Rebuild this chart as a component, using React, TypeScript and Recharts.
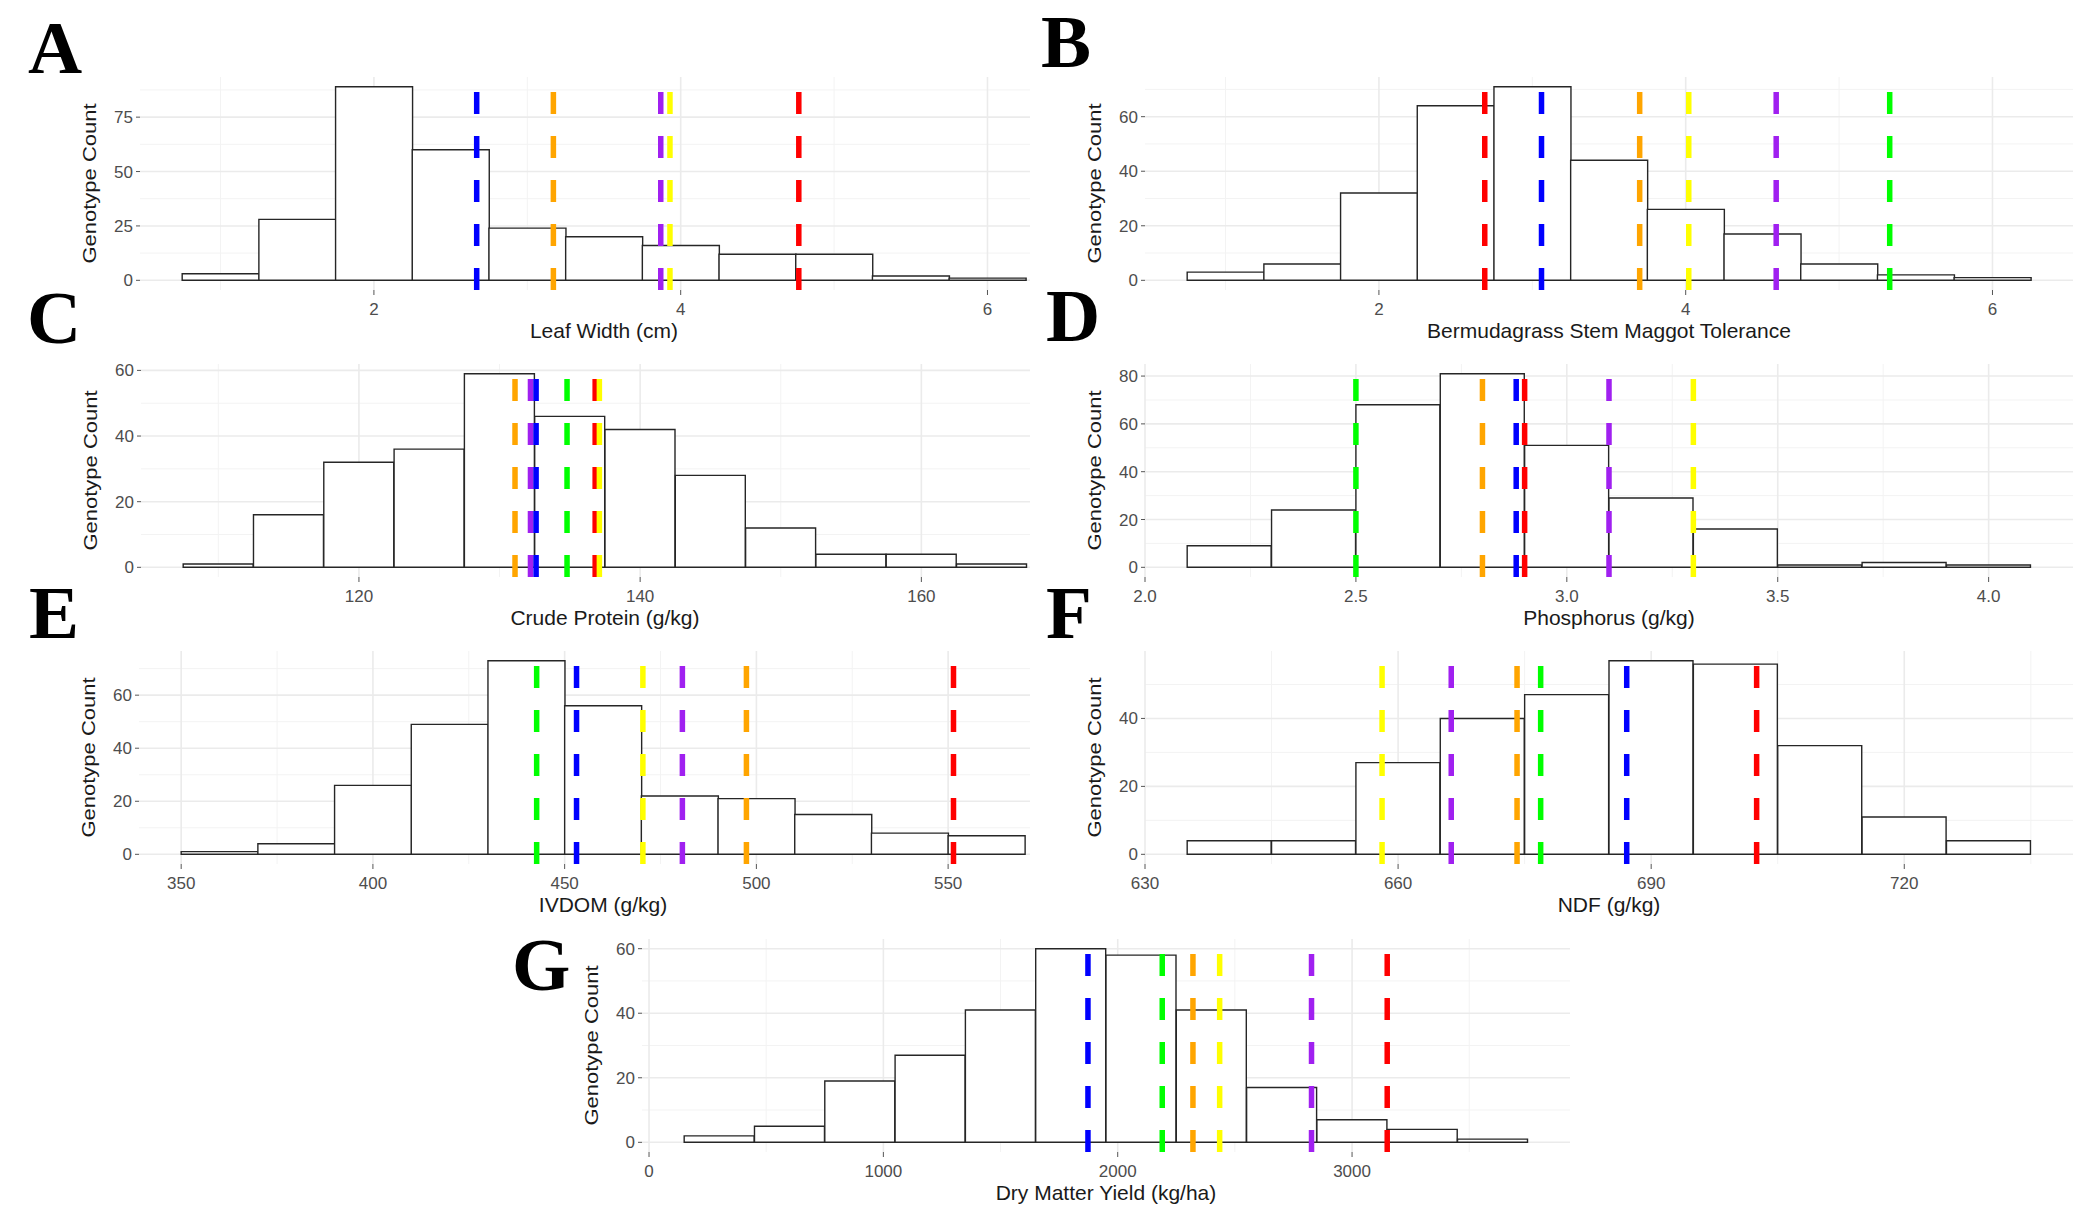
import {
  ComposedChart,
  Bar,
  XAxis,
  YAxis,
  CartesianGrid,
  ReferenceLine,
} from "recharts";

// colours used by the cut-off lines
const BLUE = "#0000FF";
const ORANGE = "#FFA500";
const PURPLE = "#A020F0";
const YELLOW = "#FFFF00";
const RED = "#FF0000";
const GREEN = "#00FF00";

// A - leaf width
const leafWidthBins = [1, 1.5, 2, 2.5, 3, 3.5, 4, 4.5, 5, 5.5, 6];
const leafWidthCounts = [3, 28, 89, 60, 24, 20, 16, 12, 12, 2, 1];
const leafWidthXTicks = [2, 4, 6];
const leafWidthYTicks = [0, 25, 50, 75];
const leafWidthLines = [2.67, 3.17, 3.87, 3.93, 4.77];
const leafWidthColors = [BLUE, ORANGE, PURPLE, YELLOW, RED];

// B - stem maggot tolerance
const maggotBins = [1, 1.5, 2, 2.5, 3, 3.5, 4, 4.5, 5, 5.5, 6];
const maggotCounts = [3, 6, 32, 64, 71, 44, 26, 17, 6, 2, 1];
const maggotXTicks = [2, 4, 6];
const maggotYTicks = [0, 20, 40, 60];
const maggotLines = [2.69, 3.06, 3.7, 4.02, 4.59, 5.33];
const maggotColors = [RED, BLUE, ORANGE, YELLOW, PURPLE, GREEN];

// C - crude protein
const proteinBins = [110, 115, 120, 125, 130, 135, 140, 145, 150, 155, 160, 165];
const proteinCounts = [1, 16, 32, 36, 59, 46, 42, 28, 12, 4, 4, 1];
const proteinXTicks = [120, 140, 160];
const proteinYTicks = [0, 20, 40, 60];
const proteinLines = [131.1, 132.2, 132.6, 134.8, 136.8, 137.1];
const proteinColors = [ORANGE, PURPLE, BLUE, GREEN, RED, YELLOW];

// D - phosphorus
const phosBins = [2.2, 2.4, 2.6, 2.8, 3.0, 3.2, 3.4, 3.6, 3.8, 4.0];
const phosCounts = [9, 24, 68, 81, 51, 29, 16, 1, 2, 1];
const phosXTicks = [2.0, 2.5, 3.0, 3.5, 4.0];
const phosYTicks = [0, 20, 40, 60, 80];
const phosLines = [2.5, 2.8, 2.88, 2.9, 3.1, 3.3];
const phosColors = [GREEN, ORANGE, BLUE, RED, PURPLE, YELLOW];

// E - IVDOM
const ivdomBins = [360, 380, 400, 420, 440, 460, 480, 500, 520, 540, 560];
const ivdomCounts = [1, 4, 26, 49, 73, 56, 22, 21, 15, 8, 7];
const ivdomXTicks = [350, 400, 450, 500, 550];
const ivdomYTicks = [0, 20, 40, 60];
const ivdomLines = [442.7, 453.1, 470.4, 480.7, 497.4, 551.4];
const ivdomColors = [GREEN, BLUE, YELLOW, PURPLE, ORANGE, RED];

// F - NDF
const ndfBins = [640, 650, 660, 670, 680, 690, 700, 710, 720, 730];
const ndfCounts = [4, 4, 27, 40, 47, 57, 56, 32, 11, 4];
const ndfXTicks = [630, 660, 690, 720];
const ndfYTicks = [0, 20, 40];
const ndfLines = [658.1, 666.3, 674.1, 676.9, 687.1, 702.5];
const ndfColors = [YELLOW, PURPLE, ORANGE, GREEN, BLUE, RED];

// G - dry matter yield
const yieldBins = [300, 600, 900, 1200, 1500, 1800, 2100, 2400, 2700, 3000, 3300, 3600];
const yieldCounts = [2, 5, 19, 27, 41, 60, 58, 41, 17, 7, 4, 1];
const yieldXTicks = [0, 1000, 2000, 3000];
const yieldYTicks = [0, 20, 40, 60];
const yieldLines = [1873, 2190, 2321, 2435, 2827, 3150];
const yieldColors = [BLUE, GREEN, ORANGE, YELLOW, PURPLE, RED];

const PLOT_W = 928;
const PLOT_H = 213;
const Y_AXIS_W = 60;
const X_AXIS_H = 60;
const M_TOP = 10;
const M_RIGHT = 12;
const CROP_X = 1030; // left column is cut off here in the figure

// ggplot style minor breaks: halfway between the major ones
function minorOf(ticks: number[]) {
  const step = ticks[1] - ticks[0];
  return [ticks[0] - step / 2, ...ticks.map((t) => t + step / 2)];
}

function makeYTitle(cx: number) {
  return (props: any) => {
    const vb = props.viewBox;
    const x = vb.x + vb.width - cx;
    const y = vb.y + vb.height / 2;
    return (
      <text
        transform={`translate(${x},${y}) rotate(-90) scale(1,0.8)`}
        textAnchor="middle"
        fontSize={22}
        fill="#1a1a1a"
      >
        Genotype Count
      </text>
    );
  };
}

type PanelProps = {
  bins: number[];
  counts: number[];
  xTicks: number[];
  yTicks: number[];
  lines: number[];
  colors: string[];
  title: string;
  left: number;
  top: number;
  crop?: boolean;
  fmt?: (v: number) => string;
};

function Panel({ bins, counts, xTicks, yTicks, lines, colors, title, left, top, crop, fmt }: PanelProps) {
  const bw = bins[1] - bins[0];
  const lo = bins[0] - bw / 2;
  const hi = bins[bins.length - 1] + bw / 2;
  const xDomain = [lo - 0.05 * (hi - lo), hi + 0.05 * (hi - lo)];
  const maxC = Math.max(...counts);
  const yDomain = [-0.05 * maxC, 1.05 * maxC];
  const data = bins.map((x, i) => ({ x, count: counts[i] }));
  const xMinor = minorOf(xTicks).filter((v) => v > xDomain[0] && v < xDomain[1]);
  const yMinor = minorOf(yTicks).filter((v) => v > yDomain[0] && v < yDomain[1]);

  const boxLeft = left - Y_AXIS_W;
  const fullW = Y_AXIS_W + PLOT_W + M_RIGHT;
  const H = M_TOP + PLOT_H + X_AXIS_H;

  return (
    <div
      style={{
        position: "absolute",
        left: boxLeft,
        top: top - M_TOP,
        width: crop ? CROP_X - boxLeft : fullW,
        height: H,
        overflow: "hidden",
      }}
    >
      <ComposedChart
        width={fullW}
        height={H}
        data={data}
        margin={{ top: M_TOP, right: M_RIGHT, bottom: 0, left: 0 }}
        barCategoryGap={0}
        barGap={0}
      >
        <XAxis xAxisId="minor" dataKey="x" type="number" domain={xDomain} allowDataOverflow ticks={xMinor} hide />
        <YAxis yAxisId="minor" type="number" domain={yDomain} allowDataOverflow ticks={yMinor} hide />
        <CartesianGrid xAxisId="minor" yAxisId="minor" stroke="#F3F3F3" strokeWidth={1} syncWithTicks />
        <XAxis
          xAxisId="main"
          dataKey="x"
          type="number"
          domain={xDomain}
          allowDataOverflow
          ticks={xTicks}
          tickFormatter={fmt}
          height={X_AXIS_H}
          axisLine={false}
          tickLine={{ stroke: "#555" }}
          tickSize={5}
          tickMargin={8}
          tick={{ fill: "#4d4d4d", fontSize: 17 }}
          label={{ value: title, position: "insideBottom", offset: X_AXIS_H - 48, fill: "#1a1a1a", fontSize: 21 }}
        />
        <YAxis
          yAxisId="main"
          type="number"
          domain={yDomain}
          allowDataOverflow
          ticks={yTicks}
          width={Y_AXIS_W}
          axisLine={false}
          tickLine={{ stroke: "#555" }}
          tickSize={4}
          tickMargin={3}
          tick={{ fill: "#4d4d4d", fontSize: 17 }}
          label={makeYTitle(44)}
        />
        <CartesianGrid xAxisId="main" yAxisId="main" stroke="#EBEBEB" strokeWidth={1.6} syncWithTicks />
        <Bar
          xAxisId="main"
          yAxisId="main"
          dataKey="count"
          fill="#FFFFFF"
          stroke="#262626"
          strokeWidth={1.4}
          isAnimationActive={false}
        />
        {lines.map((v, i) => (
          <ReferenceLine
            key={i}
            xAxisId="main"
            yAxisId="main"
            segment={[
              { x: v, y: yDomain[0] },
              { x: v, y: yDomain[1] },
            ]}
            stroke={colors[i]}
            strokeWidth={5.5}
            strokeDasharray="22 22"
            ifOverflow="visible"
          />
        ))}
      </ComposedChart>
    </div>
  );
}

const letters = [
  { t: "A", x: 28, y: 73 },
  { t: "B", x: 1041, y: 67 },
  { t: "C", x: 27, y: 343 },
  { t: "D", x: 1046, y: 341 },
  { t: "E", x: 29, y: 638 },
  { t: "F", x: 1046, y: 638 },
  { t: "G", x: 512, y: 990 },
];

export default function App() {
  return (
    <div
      style={{
        position: "absolute",
        left: 0,
        top: 0,
        width: 2094,
        height: 1220,
        background: "#fff",
        fontFamily: "'Liberation Sans', Arial, sans-serif",
        overflow: "hidden",
      }}
    >
      <Panel bins={leafWidthBins} counts={leafWidthCounts} xTicks={leafWidthXTicks} yTicks={leafWidthYTicks}
        lines={leafWidthLines} colors={leafWidthColors} title="Leaf Width (cm)" left={140} top={77} crop />
      <Panel bins={maggotBins} counts={maggotCounts} xTicks={maggotXTicks} yTicks={maggotYTicks}
        lines={maggotLines} colors={maggotColors} title="Bermudagrass Stem Maggot Tolerance" left={1145} top={77} />
      <Panel bins={proteinBins} counts={proteinCounts} xTicks={proteinXTicks} yTicks={proteinYTicks}
        lines={proteinLines} colors={proteinColors} title="Crude Protein (g/kg)" left={141} top={364} crop />
      <Panel bins={phosBins} counts={phosCounts} xTicks={phosXTicks} yTicks={phosYTicks}
        lines={phosLines} colors={phosColors} title="Phosphorus (g/kg)" left={1145} top={364}
        fmt={(v) => v.toFixed(1)} />
      <Panel bins={ivdomBins} counts={ivdomCounts} xTicks={ivdomXTicks} yTicks={ivdomYTicks}
        lines={ivdomLines} colors={ivdomColors} title="IVDOM (g/kg)" left={139} top={651} crop />
      <Panel bins={ndfBins} counts={ndfCounts} xTicks={ndfXTicks} yTicks={ndfYTicks}
        lines={ndfLines} colors={ndfColors} title="NDF (g/kg)" left={1145} top={651} />
      <Panel bins={yieldBins} counts={yieldCounts} xTicks={yieldXTicks} yTicks={yieldYTicks}
        lines={yieldLines} colors={yieldColors} title="Dry Matter Yield (kg/ha)" left={642} top={939} />
      <svg
        width={2094}
        height={1220}
        style={{ position: "absolute", left: 0, top: 0, pointerEvents: "none" }}
      >
        {letters.map((l) => (
          <text key={l.t} x={l.x} y={l.y} fontFamily="'Liberation Serif', serif" fontWeight="bold" fontSize={75} fill="#000">
            {l.t}
          </text>
        ))}
      </svg>
    </div>
  );
}
